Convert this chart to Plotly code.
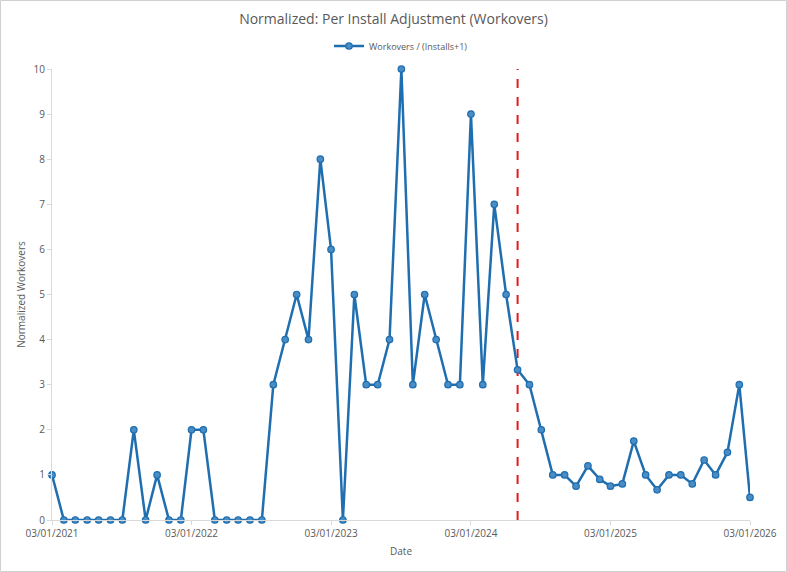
import plotly.graph_objects as go
import pandas as pd

months = pd.date_range("2021-03-01", "2026-03-01", freq="MS").strftime("%Y-%m-%d").tolist()
values = [1, 0, 0, 0, 0, 0, 0, 2, 0, 1,
          0, 0, 2, 2, 0, 0, 0, 0, 0, 3,
          4, 5, 4, 8, 6, 0, 5, 3, 3, 4,
          10, 3, 5, 4, 3, 3, 9, 3, 7, 5,
          3.33, 3, 2, 1, 1, 0.75, 1.2, 0.9, 0.75, 0.8,
          1.75, 1, 0.67, 1, 1, 0.8, 1.33, 1, 1.5, 3,
          0.5]
tick_dates = ["2021-03-01", "2022-03-01", "2023-03-01", "2024-03-01", "2025-03-01", "2026-03-01"]
tick_labels = ["03/01/2021", "03/01/2022", "03/01/2023", "03/01/2024", "03/01/2025", "03/01/2026"]
cutoff_date = "2024-07-01"
series_name = "Workovers / (Installs+1)"

W, H = 787, 572
L, R, T, B = 52, 37, 69, 52
pw, ph = W - L - R, H - T - B

fig = go.Figure()
fig.add_trace(go.Scatter(
    x=months, y=values, mode="lines+markers", name=series_name, cliponaxis=False,
    line=dict(color="#1f6eb0", width=2.5),
    marker=dict(symbol="circle", size=6.5, color="#4a8cc4", line=dict(color="#1f6eb0", width=1.2)),
))

fig.add_shape(type="line", xref="x", yref="y", x0=cutoff_date, x1=cutoff_date, y0=0, y1=10,
              line=dict(color="#e3191c", width=2, dash="dash"), layer="below")

# chart border
fig.add_shape(type="rect", xref="paper", yref="paper",
              x0=(0.5 - L) / pw, x1=(W - 0.5 - L) / pw,
              y0=(H - B - (H - 0.5)) / ph, y1=(H - B - 0.5) / ph,
              line=dict(color="#d0d0d0", width=1), fillcolor="rgba(0,0,0,0)", layer="below")

fig.update_layout(
    width=W, height=H,
    margin=dict(l=L, r=R, t=T, b=B, autoexpand=False),
    paper_bgcolor="white", plot_bgcolor="white",
    font=dict(family="Open Sans, Lato, sans-serif", color="#595959", size=10),
    title=dict(text="Normalized: Per Install Adjustment (Workovers)", x=0.5, xanchor="center",
               y=1 - 19 / H, yanchor="middle", font=dict(size=14, color="#595959")),
    showlegend=True,
    legend=dict(orientation="h", x=0.5, xanchor="center", y=1 + 23 / ph, yanchor="middle",
                font=dict(size=9, color="#595959"), bgcolor="rgba(0,0,0,0)"),
    xaxis=dict(type="date", range=["2021-03-01", "2026-03-01"], automargin=False,
               tickmode="array", tickvals=tick_dates, ticktext=tick_labels,
               showgrid=False, zeroline=False, showline=True, linecolor="#d9d9d9", linewidth=1,
               ticks="outside", ticklen=4, tickcolor="#d9d9d9",
               tickfont=dict(size=10, color="#595959"),
               title=dict(text="Date", font=dict(size=10, color="#595959"), standoff=8)),
    yaxis=dict(range=[0, 10], dtick=1, showgrid=False, zeroline=False, automargin=False,
               showline=True, linecolor="#d9d9d9", linewidth=1,
               ticks="outside", ticklen=4, tickcolor="#d9d9d9",
               tickfont=dict(size=10, color="#595959"),
               title=dict(text="Normalized Workovers", font=dict(size=10, color="#595959"), standoff=6)),
)

fig.write_html("out.html", config={"displayModeBar": False},
               post_script="document.body.style.margin='0';")
